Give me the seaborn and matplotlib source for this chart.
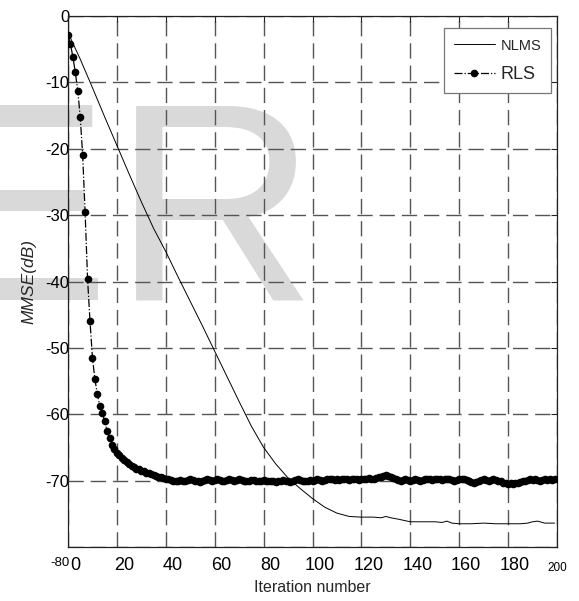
import numpy as np
import seaborn as sns
import matplotlib.pyplot as plt
from matplotlib.transforms import ScaledTranslation

# NLMS learning curve (read every few iterations)
nlms_iter = [0, 5, 10, 15, 20, 25, 30, 35, 40, 45, 50, 55, 60, 65, 70, 75, 80,
             85, 90, 95, 100, 105, 110, 115, 120, 125, 128, 130, 132, 135, 140,
             145, 150, 153, 155, 157, 160, 165, 170, 175, 180, 185, 188, 190,
             192, 195, 199]
nlms_mmse = [-2.5, -6.5, -10.8, -15.2, -19.5, -23.8, -28.0, -32.0, -35.5, -39.3,
             -43.0, -46.7, -50.5, -54.3, -58.1, -61.8, -65.0, -67.5, -69.6, -71.2,
             -72.7, -74.0, -74.9, -75.4, -75.5, -75.5, -75.6, -75.4, -75.6, -75.8,
             -76.2, -76.2, -76.2, -76.3, -76.1, -76.4, -76.5, -76.5, -76.4, -76.5,
             -76.5, -76.5, -76.4, -76.2, -76.1, -76.4, -76.4]

# RLS learning curve, one value per iteration 0..199
rls_mmse = [
    -2.9, -4.2, -6.2, -8.5, -11.3, -15.2, -21.0, -29.6, -39.6, -46.0,
    -51.5, -54.7, -57.0, -58.7, -59.8, -61.0, -62.5, -63.6, -64.6, -65.3,
    -65.8, -66.2, -66.6, -66.9, -67.2, -67.5, -67.8, -68.0, -68.2, -68.3,
    -68.5, -68.6, -68.8, -68.9, -69.0, -69.1, -69.3, -69.4, -69.5, -69.6,
    -69.7, -69.8, -69.9, -70.0, -70.1, -70.0, -69.9, -70.0, -70.1, -69.9,
    -69.8, -69.9, -70.0, -70.1, -70.2, -70.0, -69.9, -69.8, -69.9, -70.0,
    -69.9, -69.8, -69.9, -70.0, -70.1, -69.9, -69.8, -69.9, -70.0, -69.9,
    -69.8, -69.9, -70.0, -70.1, -70.0, -69.9, -69.9, -70.0, -70.1, -70.0,
    -69.9, -70.0, -70.1, -70.0, -70.1, -70.2, -70.1, -70.0, -69.9, -70.0,
    -70.1, -70.2, -70.0, -69.9, -69.8, -69.9, -70.0, -70.1, -70.0, -69.9,
    -70.0, -69.9, -69.8, -69.9, -70.0, -69.9, -69.8, -69.7, -69.8, -69.9,
    -69.8, -69.9, -69.8, -69.7, -69.8, -69.9, -69.8, -69.7, -69.8, -69.9,
    -69.8, -69.7, -69.8, -69.6, -69.7, -69.8, -69.6, -69.5, -69.4, -69.3,
    -69.2, -69.3, -69.4, -69.6, -69.8, -69.9, -70.0, -69.9, -69.8, -69.9,
    -70.0, -69.9, -69.8, -69.9, -70.0, -69.9, -69.8, -69.7, -69.8, -69.9,
    -69.8, -69.7, -69.8, -69.9, -69.8, -69.7, -69.8, -69.9, -70.0, -69.9,
    -69.8, -69.7, -69.8, -69.9, -70.1, -70.2, -70.3, -70.2, -70.0, -69.9,
    -69.8, -69.9, -70.0, -69.9, -69.8, -69.9, -70.0, -70.1, -70.3, -70.4,
    -70.5, -70.4, -70.5, -70.4, -70.3, -70.2, -70.1, -70.0, -69.9, -69.8,
    -69.9, -69.8, -69.9, -70.0, -69.9, -69.8, -69.9, -69.8, -69.9, -69.8,
]
rls_iter = list(range(len(rls_mmse)))

x_ticks = list(range(0, 201, 20))
y_ticks = list(range(-80, 1, 10))

sns.set_style('white')
plt.rcParams['font.family'] = ['Liberation Sans', 'DejaVu Sans']

fig = plt.figure(figsize=(5.79, 6.01), dpi=100)
ax = fig.add_axes([68 / 579, 1 - 547 / 601, 489 / 579, 531 / 601])

# watermark behind everything
wm = dict(transform=fig.transFigure, fontsize=203, color='#d9d9d9',
          ha='left', va='baseline', clip_on=False, zorder=0.5)
ax.text(-78 / 579, 1 - 300 / 601, 'E', **wm)
ax.text(113 / 579, 1 - 300 / 601, 'R', **wm)

sns.lineplot(x=nlms_iter, y=nlms_mmse, ax=ax, color='black', lw=0.7,
             label='NLMS', zorder=3)
sns.lineplot(x=rls_iter, y=rls_mmse, ax=ax, color='black', lw=0.9,
             linestyle='-.', marker='o', markersize=5.5, markeredgewidth=0,
             label='RLS', zorder=4)

ax.set_xlim(0, 200)
ax.set_ylim(-80, 0)
ax.set_xticks(x_ticks)
ax.set_yticks(y_ticks)
ax.set_xticklabels([str(v) for v in x_ticks])
ax.set_yticklabels([str(v) for v in y_ticks])
ax.grid(True, color='#555555', lw=1.0, linestyle=(0, (11, 5)))
for s in ax.spines.values():
    s.set_color('#222222')
    s.set_linewidth(0.9)
ax.tick_params(direction='in', length=4, width=0.8, top=True, right=True,
               colors='#222222', labelcolor='black')
ax.tick_params(axis='x', labelsize=13, pad=7.5)
ax.tick_params(axis='y', labelsize=12, pad=-1)

# MATLAB-ish odd label placement
for lab in ax.get_xticklabels():
    if lab.get_text() == '200':
        lab.set_fontsize(8.5)
        lab.set_transform(lab.get_transform() + ScaledTranslation(0, -0.05, fig.dpi_scale_trans))
    else:
        lab.set_transform(lab.get_transform() + ScaledTranslation(0.07, 0, fig.dpi_scale_trans))
for lab in ax.get_yticklabels():
    if lab.get_text() == '-80':
        lab.set_fontsize(9.5)
        lab.set_transform(lab.get_transform() + ScaledTranslation(0, -0.15, fig.dpi_scale_trans))

ax.set_xlabel('Iteration number', fontsize=11.5, labelpad=4)
ax.set_ylabel('MMSE(dB)', fontsize=12.5, style='italic', labelpad=6)

leg = ax.legend(loc='upper right', bbox_to_anchor=(1 - 6 / 489, 1 - 12 / 531),
                borderaxespad=0, fontsize=12, handlelength=2.5, numpoints=1,
                fancybox=False, framealpha=1, edgecolor='#777777',
                borderpad=0.6, labelspacing=0.8, handletextpad=0.3)
leg.get_frame().set_linewidth(0.9)
leg.get_texts()[0].set_fontsize(10.5)
leg.get_texts()[1].set_fontsize(13)

fig.savefig('out.png', dpi=100)
